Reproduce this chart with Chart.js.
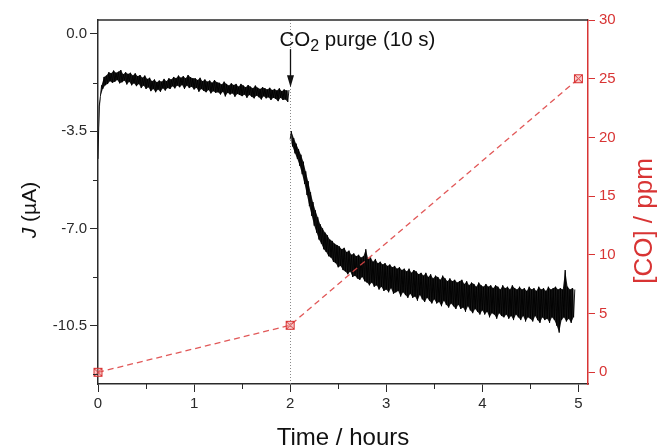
<!DOCTYPE html>
<html><head><meta charset="utf-8">
<script src="https://cdn.jsdelivr.net/npm/chart.js@4.4.1/dist/chart.umd.min.js"></script>
<style>html,body{margin:0;padding:0;background:#fff;}#wrap{width:658px;height:448px;}</style>
</head><body><div id="wrap"><canvas id="c" width="658" height="448"></canvas></div>
<script>
// ---- data ----
const TIME_STEP = 0.025;          // hours between successive bins of the current trace
const PURGE_INDEX = 80;           // bin where CO2 purge happens (t = 2 h)
const purgeTime = 2;
// lower / upper envelope of the noisy current trace J (µA), one value per bin
const jLow = [
 -4.5,-2.25,-1.98,-1.85,-1.8,-1.7,-1.76,-1.72,-1.66,-1.78,
 -1.74,-1.68,-1.82,-1.72,-1.85,-1.78,-1.88,-1.8,-1.95,-1.86,
 -1.98,-1.92,-2.06,-1.98,-2.1,-2.0,-2.08,-1.96,-2.04,-1.95,
 -1.98,-1.88,-1.96,-1.86,-1.92,-1.84,-1.98,-1.86,-1.95,-1.9,
 -2.0,-1.94,-2.08,-1.98,-2.05,-2.1,-2.02,-2.14,-2.06,-2.12,
 -2.1,-2.18,-2.08,-2.25,-2.12,-2.18,-2.14,-2.26,-2.16,-2.2,
 -2.24,-2.18,-2.3,-2.2,-2.26,-2.32,-2.22,-2.28,-2.36,-2.24,
 -2.32,-2.28,-2.38,-2.3,-2.34,-2.42,-2.3,-2.38,-2.36,-2.45,
 -3.8,-4.05,-4.3,-4.5,-4.75,-5.05,-5.4,-5.8,-6.2,-6.55,
 -6.9,-7.15,-7.4,-7.55,-7.75,-7.85,-8.0,-8.05,-8.2,-8.25,
 -8.4,-8.35,-8.5,-8.55,-8.65,-8.55,-8.75,-8.7,-8.8,-8.85,
 -8.75,-8.9,-8.95,-9.05,-8.95,-9.1,-9.05,-9.2,-9.1,-9.25,
 -9.2,-9.3,-9.15,-9.35,-9.3,-9.25,-9.45,-9.3,-9.4,-9.5,
 -9.35,-9.5,-9.45,-9.6,-9.4,-9.55,-9.65,-9.5,-9.6,-9.7,
 -9.55,-9.7,-9.65,-9.8,-9.6,-9.75,-9.85,-9.7,-9.8,-9.9,
 -9.75,-9.9,-9.85,-10.0,-9.8,-9.95,-10.05,-9.9,-10.0,-10.1,
 -9.95,-10.1,-10.0,-10.2,-10.05,-10.1,-10.25,-10.05,-10.15,-10.2,
 -10.1,-10.25,-10.15,-10.3,-10.1,-10.2,-10.3,-10.15,-10.35,-10.2,
 -10.25,-10.35,-10.15,-10.3,-10.4,-10.2,-10.3,-10.25,-10.4,-10.2,
 -10.3,-10.5,-10.75,-10.3,-10.2,-10.35,-10.25,-10.4,-10.2
];
const jHigh = [
 -2.6,-1.85,-1.55,-1.5,-1.38,-1.42,-1.32,-1.4,-1.36,-1.3,
 -1.45,-1.38,-1.44,-1.4,-1.5,-1.42,-1.52,-1.48,-1.58,-1.5,
 -1.62,-1.58,-1.7,-1.64,-1.74,-1.68,-1.72,-1.62,-1.7,-1.6,
 -1.64,-1.55,-1.6,-1.5,-1.58,-1.52,-1.6,-1.48,-1.56,-1.6,
 -1.6,-1.66,-1.58,-1.7,-1.64,-1.72,-1.68,-1.76,-1.66,-1.74,
 -1.76,-1.82,-1.72,-1.8,-1.86,-1.78,-1.84,-1.8,-1.9,-1.8,
 -1.86,-1.92,-1.84,-1.9,-1.96,-1.86,-1.94,-1.98,-1.92,-1.96,
 -2.0,-1.94,-2.02,-1.98,-2.04,-1.96,-2.06,-2.0,-2.04,-2.02,
 -3.5,-3.75,-3.95,-4.15,-4.35,-4.6,-4.95,-5.3,-5.7,-6.05,
 -6.35,-6.6,-6.85,-7.0,-7.15,-7.25,-7.4,-7.45,-7.55,-7.6,
 -7.65,-7.75,-7.7,-7.85,-7.8,-7.95,-7.9,-8.0,-7.95,-8.05,
 -8.0,-7.75,-8.1,-8.05,-8.2,-8.1,-8.25,-8.2,-8.3,-8.25,
 -8.35,-8.3,-8.4,-8.35,-8.45,-8.4,-8.5,-8.45,-8.55,-8.45,
 -8.6,-8.5,-8.55,-8.65,-8.6,-8.7,-8.6,-8.75,-8.65,-8.8,
 -8.7,-8.75,-8.85,-8.7,-8.8,-8.9,-8.8,-8.9,-8.85,-8.95,
 -8.9,-8.85,-9.0,-8.9,-9.05,-8.95,-9.0,-9.1,-8.95,-9.05,
 -9.1,-9.0,-9.1,-9.05,-9.15,-9.05,-9.1,-9.2,-9.05,-9.15,
 -9.1,-9.2,-9.05,-9.15,-9.2,-9.1,-9.2,-9.15,-9.25,-9.1,
 -9.2,-9.15,-9.25,-9.1,-9.2,-9.15,-9.25,-9.1,-9.2,-9.15,
 -9.1,-9.2,-9.15,-9.2,-8.5,-9.1,-9.2,-9.15,-9.2
];
const coTime = [0, 2, 5];
const coPpm = [0, 4, 25];
const xTicks = [0, 1, 2, 3, 4, 5];
const xMinorTicks = [0.5, 1.5, 2.5, 3.5, 4.5];
const yTicks = [0, -3.5, -7, -10.5];
const yMinorTicks = [-1.75, -5.25, -8.75, -12.25];
const y2Ticks = [0, 5, 10, 15, 20, 25, 30];

// ---- styling ----
const RED = '#d83434';
const INK = '#2a2a2a';
const FONT = 'Liberation Sans, Arial, sans-serif';

// build the trace (each bin: low then high -> dense noisy band)
const trace = [];
const lowPre = [], highPre = [], lowPost = [], highPost = [];
for (let i = 0; i < jLow.length; i++) {
  const t = i * TIME_STEP;
  if (i === PURGE_INDEX) trace.push({x: t - 0.004, y: null});
  const lo = {x: t, y: jLow[i]};
  const hi = {x: t + TIME_STEP / 2, y: jHigh[i]};
  trace.push(lo, hi);
  if (i < PURGE_INDEX) { lowPre.push(lo); highPre.push(hi); }
  else { lowPost.push(lo); highPost.push(hi); }
}
const coData = coTime.map((t, i) => ({x: t, y: coPpm[i]}));

function makeMarker() {
  const c = document.createElement('canvas');
  c.width = 11; c.height = 11;
  const g = c.getContext('2d');
  g.fillStyle = 'rgba(240,140,140,0.45)';
  g.fillRect(1.5, 1.5, 8, 8);
  g.strokeStyle = RED; g.lineWidth = 1;
  g.strokeRect(1.5, 1.5, 8, 8);
  g.beginPath();
  g.moveTo(1.5, 1.5); g.lineTo(9.5, 9.5);
  g.moveTo(9.5, 1.5); g.lineTo(1.5, 9.5);
  g.stroke();
  return c;
}

const decor = {
  id: 'decor',
  beforeDatasetsDraw(chart) {
    const {ctx, chartArea: a, scales: {x}} = chart;
    const px = x.getPixelForValue(purgeTime);
    ctx.save();
    ctx.strokeStyle = '#8a8a8a'; ctx.lineWidth = 1; ctx.setLineDash([1, 2]);
    ctx.beginPath(); ctx.moveTo(Math.round(px) + 0.5, a.top); ctx.lineTo(Math.round(px) + 0.5, a.bottom); ctx.stroke();
    ctx.restore();
  },
  afterDraw(chart) {
    const {ctx, chartArea: a, scales: {x, y}} = chart;
    ctx.save();
    // top frame line
    ctx.strokeStyle = INK; ctx.lineWidth = 1.5;
    ctx.beginPath(); ctx.moveTo(a.left, a.top); ctx.lineTo(a.right, a.top); ctx.stroke();
    // minor ticks
    ctx.lineWidth = 1;
    ctx.beginPath();
    xMinorTicks.forEach(v => { const p = Math.round(x.getPixelForValue(v)) + 0.5; ctx.moveTo(p, a.bottom); ctx.lineTo(p, a.bottom + 5); });
    yMinorTicks.forEach(v => { const p = Math.round(y.getPixelForValue(v)) + 0.5; ctx.moveTo(a.left - 5, p); ctx.lineTo(a.left, p); });
    ctx.stroke();
    // x title
    ctx.fillStyle = '#111';
    ctx.font = '24px ' + FONT;
    ctx.textAlign = 'center'; ctx.textBaseline = 'alphabetic';
    ctx.fillText('Time / hours', (a.left + a.right) / 2, 445);
    // left title  J (µA), J italic
    ctx.save();
    ctx.translate(36, 210); ctx.rotate(-Math.PI / 2);
    ctx.textAlign = 'left';
    ctx.font = 'italic 21px ' + FONT;
    const wJ = ctx.measureText('J').width;
    ctx.font = '21px ' + FONT;
    const wR = ctx.measureText(' (µA)').width;
    const start = -(wJ + wR) / 2;
    ctx.font = 'italic 21px ' + FONT;
    ctx.fillText('J', start, 0);
    ctx.font = '21px ' + FONT;
    ctx.fillText(' (µA)', start + wJ, 0);
    ctx.restore();
    // right title
    ctx.save();
    ctx.translate(652, 221); ctx.rotate(-Math.PI / 2);
    ctx.fillStyle = RED; ctx.textAlign = 'center';
    ctx.font = '26px ' + FONT;
    ctx.fillText('[CO] / ppm', 0, 0);
    ctx.restore();
    // annotation
    const px = Math.round(x.getPixelForValue(purgeTime)) + 0.5;
    const yText = y.getPixelForValue(-0.43);
    const yShaft = y.getPixelForValue(-0.55);
    const yTip = y.getPixelForValue(-1.92);
    ctx.fillStyle = '#111'; ctx.textAlign = 'left';
    ctx.font = '20.5px ' + FONT;
    let tx = px - 11;
    ctx.fillText('CO', tx, yText); tx += ctx.measureText('CO').width;
    ctx.font = '16px ' + FONT;
    ctx.fillText('2', tx, yText + 5); tx += ctx.measureText('2').width;
    ctx.font = '20.5px ' + FONT;
    ctx.fillText(' purge (10 s)', tx, yText);
    ctx.strokeStyle = '#111'; ctx.lineWidth = 1.3;
    ctx.beginPath(); ctx.moveTo(px, yShaft); ctx.lineTo(px, yTip - 8); ctx.stroke();
    ctx.beginPath(); ctx.moveTo(px - 3.5, yTip - 12); ctx.lineTo(px + 3.5, yTip - 12); ctx.lineTo(px, yTip); ctx.closePath(); ctx.fill();
    ctx.restore();
  }
};

const bandStyle = {yAxisID: 'y', borderWidth: 0, pointRadius: 0, order: 2};
new Chart(document.getElementById('c'), {
  type: 'line',
  data: {
    datasets: [
      { label: 'CO', data: coData, yAxisID: 'y2', borderColor: 'rgba(222,70,70,0.9)', borderWidth: 1.3,
        borderDash: [6, 4], pointStyle: makeMarker(), pointRadius: 5, clip: false, order: 0 },
      Object.assign({label: 'lowPre', data: lowPre, fill: false}, bandStyle),
      Object.assign({label: 'highPre', data: highPre, fill: '-1', backgroundColor: 'rgba(0,0,0,0.9)'}, bandStyle),
      Object.assign({label: 'lowPost', data: lowPost, fill: false}, bandStyle),
      Object.assign({label: 'highPost', data: highPost, fill: '-1', backgroundColor: 'rgba(0,0,0,0.9)'}, bandStyle),
      { label: 'J', data: trace, yAxisID: 'y', borderColor: '#000', borderWidth: 0.9, pointRadius: 0,
        spanGaps: false, order: 1 }
    ]
  },
  options: {
    responsive: false, animation: false, devicePixelRatio: 1,
    layout: {padding: {top: 20, left: 0, right: 0, bottom: 0}},
    plugins: {legend: {display: false}, tooltip: {enabled: false}},
    elements: {line: {tension: 0}},
    scales: {
      x: {
        type: 'linear', position: 'bottom', min: 0, max: 5.1,
        afterBuildTicks: s => { s.ticks = xTicks.map(v => ({value: v})); },
        afterFit: s => { s.height = 64; },
        ticks: {color: INK, font: {family: FONT, size: 15}, padding: 3, maxRotation: 0, autoSkip: false,
          callback: v => String(v)},
        grid: {drawOnChartArea: false, drawTicks: true, tickLength: 8, color: INK, lineWidth: 1},
        border: {display: true, color: INK, width: 1.5}
      },
      y: {
        type: 'linear', position: 'left', min: -12.6, max: 0.5,
        afterBuildTicks: s => { s.ticks = yTicks.map(v => ({value: v})); },
        afterFit: s => { s.width = 98; },
        ticks: {color: INK, font: {family: FONT, size: 15}, padding: 3, autoSkip: false,
          callback: v => v.toFixed(1)},
        grid: {drawOnChartArea: false, drawTicks: true, tickLength: 8, color: INK, lineWidth: 1},
        border: {display: true, color: INK, width: 1.5}
      },
      y2: {
        type: 'linear', position: 'right', min: -1, max: 30,
        afterBuildTicks: s => { s.ticks = y2Ticks.map(v => ({value: v})); },
        afterFit: s => { s.width = 70; },
        ticks: {color: RED, font: {family: FONT, size: 15}, padding: 4, autoSkip: false,
          callback: v => String(v)},
        grid: {drawOnChartArea: false, drawTicks: true, tickLength: 7, color: RED, lineWidth: 1},
        border: {display: true, color: RED, width: 1.5}
      }
    }
  },
  plugins: [decor]
});
</script>
</body></html>
